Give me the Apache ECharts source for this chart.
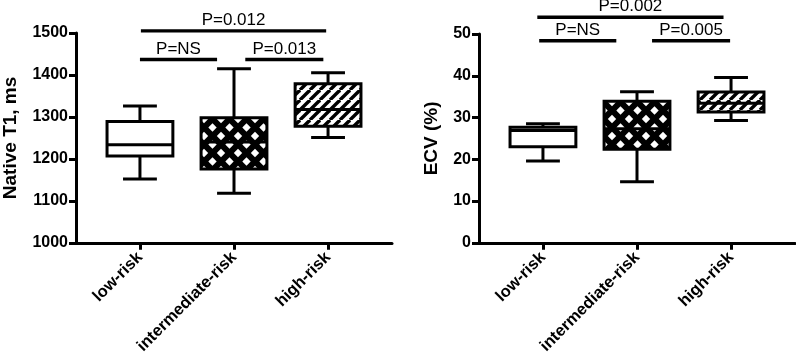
<!DOCTYPE html>
<html>
<head>
<meta charset="utf-8">
<script src="https://cdn.jsdelivr.net/npm/echarts@6/dist/echarts.min.js"></script>
<style>
  html, body { margin: 0; padding: 0; background: #fff; }
  #chart { width: 796px; height: 357px; }
</style>
</head>
<body>
<div id="chart"></div>
<script>
// 그룹 이름
const categories = ['low-risk', 'intermediate-risk', 'high-risk'];

// 박스 데이터: [min, Q1, median, Q3, max]
const t1Low = [1152, 1207, 1234, 1289, 1326];
const t1Intermediate = [1118, 1176, 1240, 1298, 1415];
const t1High = [1251, 1278, 1318, 1379, 1405];

const ecvLow = [19.6, 23.0, 26.9, 27.7, 28.5];
const ecvIntermediate = [14.6, 22.4, 27.3, 33.9, 36.2];
const ecvHigh = [29.3, 31.3, 33.4, 36.1, 39.6];

// 유의성 표시 (가로선 시작/끝 위치, 높이, 문구)
const t1BracketFrom = [1.01, 1.0, 2.12];
const t1BracketTo = [2.98, 1.82, 2.95];
const t1BracketY = [1505, 1437, 1437];
const t1BracketText = ['P=0.012', 'P=NS', 'P=0.013'];

const ecvBracketFrom = [0.94, 0.96, 2.16];
const ecvBracketTo = [2.92, 1.78, 2.99];
const ecvBracketY = [54.0, 48.4, 48.4];
const ecvBracketText = ['P=0.002', 'P=NS', 'P=0.005'];

const FONT = '"Liberation Sans", Arial, Helvetica, sans-serif';

// 채우기 패턴 만들기
function makeCrossPattern() {
    const s = 17, r = 4.2;
    const c = document.createElement('canvas');
    c.width = s; c.height = s;
    const ctx = c.getContext('2d');
    ctx.fillStyle = '#000';
    ctx.fillRect(0, 0, s, s);
    ctx.fillStyle = '#fff';
    [[s / 2, s / 2], [0, 0], [s, 0], [0, s], [s, s]].forEach(([x, y]) => {
        ctx.beginPath();
        ctx.moveTo(x, y - r);
        ctx.lineTo(x + r, y);
        ctx.lineTo(x, y + r);
        ctx.lineTo(x - r, y);
        ctx.closePath();
        ctx.fill();
    });
    return c;
}

function makeStripePattern() {
    const s = 10;
    const c = document.createElement('canvas');
    c.width = s; c.height = s;
    const ctx = c.getContext('2d');
    ctx.fillStyle = '#fff';
    ctx.fillRect(0, 0, s, s);
    ctx.strokeStyle = '#000';
    ctx.lineWidth = 3.4;
    [[-s, 0], [0, 0], [s, 0]].forEach(([ox]) => {
        ctx.beginPath();
        ctx.moveTo(ox, s);
        ctx.lineTo(ox + s, 0);
        ctx.stroke();
    });
    return c;
}

const boxFills = [
    '#fff',
    { image: makeCrossPattern(), repeat: 'repeat' },
    { image: makeStripePattern(), repeat: 'repeat' }
];

const LINE = { stroke: '#000', lineWidth: 3 };

// 박스플롯 (수염 끝은 박스 폭의 절반)
function renderBox(params, api) {
    const x = api.value(0);
    const band = api.size([1, 0])[0];
    const boxW = band * 0.7;
    const capW = band * 0.36;
    const pMin = api.coord([x, api.value(1)]);
    const pQ1 = api.coord([x, api.value(2)]);
    const pMed = api.coord([x, api.value(3)]);
    const pQ3 = api.coord([x, api.value(4)]);
    const pMax = api.coord([x, api.value(5)]);
    const cx = pMin[0];
    return {
        type: 'group',
        children: [
            { type: 'line', shape: { x1: cx, y1: pMax[1], x2: cx, y2: pQ3[1] }, style: LINE },
            { type: 'line', shape: { x1: cx, y1: pQ1[1], x2: cx, y2: pMin[1] }, style: LINE },
            { type: 'line', shape: { x1: cx - capW / 2, y1: pMax[1], x2: cx + capW / 2, y2: pMax[1] }, style: LINE },
            { type: 'line', shape: { x1: cx - capW / 2, y1: pMin[1], x2: cx + capW / 2, y2: pMin[1] }, style: LINE },
            {
                type: 'rect',
                shape: { x: cx - boxW / 2, y: pQ3[1], width: boxW, height: pQ1[1] - pQ3[1] },
                style: { fill: boxFills[params.dataIndex], stroke: '#000', lineWidth: 3 }
            },
            { type: 'line', shape: { x1: cx - boxW / 2, y1: pMed[1], x2: cx + boxW / 2, y2: pMed[1] }, style: LINE }
        ]
    };
}

function makeBracketRenderer(texts) {
    return function (params, api) {
        const p1 = api.coord([api.value(0), api.value(2)]);
        const p2 = api.coord([api.value(1), api.value(2)]);
        return {
            type: 'group',
            children: [
                { type: 'line', shape: { x1: p1[0], y1: p1[1], x2: p2[0], y2: p2[1] }, style: { stroke: '#000', lineWidth: 3.4 } },
                {
                    type: 'text',
                    style: {
                        text: texts[params.dataIndex],
                        x: (p1[0] + p2[0]) / 2,
                        y: p1[1] - 2,
                        align: 'center', textAlign: 'center',
                        verticalAlign: 'bottom', textVerticalAlign: 'bottom',
                        fontSize: 17, fontFamily: FONT,
                        fill: '#000'
                    }
                }
            ]
        };
    };
}

const axisLine = { show: true, lineStyle: { color: '#000', width: 3 } };

function xAxisFor(gridIndex) {
    return {
        type: 'value',
        gridIndex: gridIndex,
        min: 0.32,
        max: 3.68,
        splitLine: { show: false },
        axisLine: axisLine,
        axisTick: { show: true, customValues: [1, 2, 3], length: 7, lineStyle: { color: '#000', width: 3 } },
        axisLabel: {
            customValues: [1, 2, 3],
            formatter: v => categories[Math.round(v) - 1],
            rotate: 45,
            margin: 12,
            color: '#000',
            fontWeight: 'bold',
            fontSize: 16.5,
            fontFamily: FONT
        }
    };
}

function yAxisFor(gridIndex, min, max, interval, name, nameGap) {
    return {
        type: 'value',
        gridIndex: gridIndex,
        min: min,
        max: max,
        interval: interval,
        name: name,
        nameLocation: 'middle',
        nameGap: nameGap,
        nameTextStyle: { color: '#000', fontWeight: 'bold', fontSize: 19, fontFamily: FONT },
        splitLine: { show: false },
        axisLine: axisLine,
        axisTick: { show: true, length: 7, lineStyle: { color: '#000', width: 3 } },
        axisLabel: {
            formatter: v => String(v),
            color: '#000', fontWeight: 'bold', fontSize: 16, fontFamily: FONT, margin: 8
        }
    };
}

const chart = echarts.init(document.getElementById('chart'), null, { renderer: 'canvas' });

chart.setOption({
    animation: false,
    backgroundColor: '#fff',
    grid: [
        { left: 74, right: 404, top: 33, bottom: 113 },
        { left: 479, right: 1, top: 34, bottom: 112 }
    ],
    xAxis: [xAxisFor(0), xAxisFor(1)],
    yAxis: [
        yAxisFor(0, 1000, 1500, 100, 'Native T1, ms', 56),
        yAxisFor(1, 0, 50, 10, 'ECV (%)', 38)
    ],
    series: [
        {
            type: 'custom',
            xAxisIndex: 0, yAxisIndex: 0,
            renderItem: renderBox,
            encode: { x: 0, y: [1, 2, 3, 4, 5] },
            data: [[1, ...t1Low], [2, ...t1Intermediate], [3, ...t1High]]
        },
        {
            type: 'custom',
            xAxisIndex: 1, yAxisIndex: 1,
            renderItem: renderBox,
            encode: { x: 0, y: [1, 2, 3, 4, 5] },
            data: [[1, ...ecvLow], [2, ...ecvIntermediate], [3, ...ecvHigh]]
        },
        {
            type: 'custom',
            xAxisIndex: 0, yAxisIndex: 0,
            clip: false,
            renderItem: makeBracketRenderer(t1BracketText),
            encode: { x: [0, 1], y: 2 },
            data: t1BracketFrom.map((f, i) => [f, t1BracketTo[i], t1BracketY[i]])
        },
        {
            type: 'custom',
            xAxisIndex: 1, yAxisIndex: 1,
            clip: false,
            renderItem: makeBracketRenderer(ecvBracketText),
            encode: { x: [0, 1], y: 2 },
            data: ecvBracketFrom.map((f, i) => [f, ecvBracketTo[i], ecvBracketY[i]])
        }
    ]
});
</script>
</body>
</html>
